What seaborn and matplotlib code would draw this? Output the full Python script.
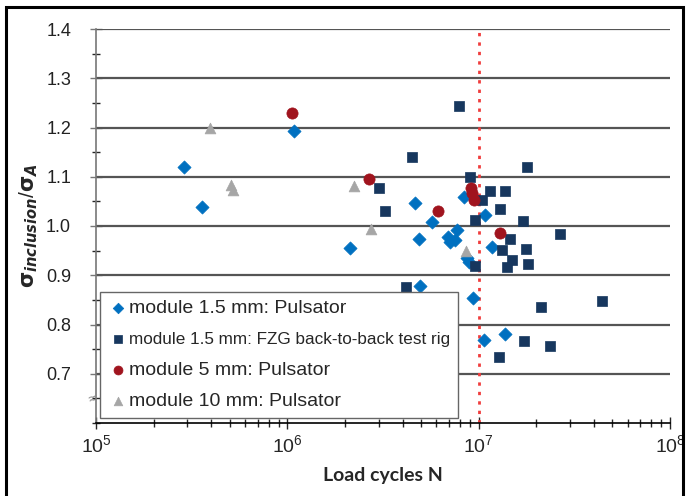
import numpy as np
import pandas as pd
import matplotlib.pyplot as plt
import seaborn as sns
from matplotlib.ticker import MultipleLocator, LogLocator, NullFormatter
from matplotlib.patches import Rectangle

# module 1.5 mm: Pulsator (blue diamonds)
puls15_n = [2.88e5, 3.6e5, 1.09e6, 2.13e6, 4.65e6, 4.9e6, 4.94e6, 5.68e6, 6.89e6, 7.08e6,
            7.53e6, 7.67e6, 8.4e6, 8.7e6, 8.9e6, 9.3e6, 1.08e7, 1.18e7, 1.07e7, 1.37e7]
puls15_s = [1.119, 1.038, 1.193, 0.955, 1.047, 0.974, 0.879, 1.009, 0.977, 0.967,
            0.972, 0.991, 1.059, 0.936, 0.926, 0.854, 1.023, 0.958, 0.769, 0.781]

# module 1.5 mm: FZG back-to-back test rig (navy squares)
fzg_n = [4.17e6, 3.03e6, 3.25e6, 4.47e6, 7.9e6, 9.0e6, 9.57e6, 1.04e7, 1.15e7, 1.37e7,
         1.29e7, 1.78e7, 1.70e7, 2.66e7, 1.45e7, 1.33e7, 1.77e7, 1.49e7, 1.82e7, 1.40e7,
         9.6e6, 2.13e7, 4.40e7, 1.73e7, 2.36e7, 1.27e7]
fzg_s = [0.876, 1.078, 1.030, 1.140, 1.244, 1.100, 1.013, 1.052, 1.072, 1.071,
         1.035, 1.120, 1.010, 0.983, 0.974, 0.952, 0.954, 0.930, 0.923, 0.916,
         0.918, 0.836, 0.847, 0.766, 0.757, 0.735]

# module 5 mm: Pulsator (red circles)
puls5_n = [1.06e6, 2.68e6, 6.1e6, 9.1e6, 9.2e6, 9.45e6, 1.30e7]
puls5_s = [1.230, 1.096, 1.030, 1.077, 1.066, 1.052, 0.986]

# module 10 mm: Pulsator (grey triangles)
puls10_n = [3.95e5, 5.1e5, 5.2e5, 2.23e6, 2.73e6, 8.6e6]
puls10_s = [1.198, 1.083, 1.074, 1.081, 0.993, 0.950]

labels = ["module 1.5 mm: Pulsator",
          "module 1.5 mm: FZG back-to-back test rig",
          "module 5 mm: Pulsator",
          "module 10 mm: Pulsator"]
ytick_vals = [0.7, 0.8, 0.9, 1.0, 1.1, 1.2, 1.3, 1.4]
ytick_labels = ["0.7", "0.8", "0.9", "1.0", "1.1", "1.2", "1.3", "1.4"]

colors = ["#0070C0", "#17375E", "#A0141E", "#A6A6A6"]
markers = ["D", "s", "o", "^"]
sizes = [45, 60, 65, 60]

sns.set_style("ticks")
plt.rcParams['font.family'] = ['Liberation Sans', 'DejaVu Sans']
plt.rcParams['mathtext.default'] = 'regular'

fig = plt.figure(figsize=(6.87, 4.96), dpi=100)
ax = fig.add_axes([96 / 687, 1 - 423 / 496, 574 / 687, 394 / 496])

series = [(puls15_n, puls15_s), (fzg_n, fzg_s), (puls5_n, puls5_s), (puls10_n, puls10_s)]
for (n, s), lab, c, m, sz in zip(series, labels, colors, markers, sizes):
    df = pd.DataFrame({"N": n, "ratio": s})
    sns.scatterplot(data=df, x="N", y="ratio", ax=ax, color=c, marker=m, s=sz,
                    edgecolor=c, linewidth=0.5, label=lab, zorder=3)

ax.set_xscale("log")
ax.set_xlim(1e5, 1e8)
ax.set_ylim(0.6, 1.4)
ax.set_yticks(ytick_vals)
ax.set_yticklabels(ytick_labels)
ax.yaxis.set_minor_locator(MultipleLocator(0.05))
ax.xaxis.set_minor_locator(LogLocator(base=10, subs=np.arange(2, 10)))
ax.xaxis.set_minor_formatter(NullFormatter())

for v in ytick_vals:
    ax.axhline(v, color="#555555", lw=1.6, zorder=1)
ax.axvline(1e7, color="#F03C3C", ls=(0, (1.2, 2.2)), lw=2, zorder=2)

for sp in ["top", "right"]:
    ax.spines[sp].set_visible(False)
ax.spines["left"].set_color("#777777")
ax.spines["left"].set_linewidth(1.2)
ax.spines["bottom"].set_color("black")
ax.spines["bottom"].set_linewidth(1.2)
ax.tick_params(axis="both", which="major", direction="inout", length=8, width=1)
ax.tick_params(axis="both", which="minor", direction="inout", length=6, width=1)
ax.tick_params(axis="y", colors="#777777", labelcolor="#222222", labelsize=13, pad=14)
ax.tick_params(axis="x", labelsize=14, pad=4)

ax.set_xlabel("Load cycles N", fontsize=14, fontweight="bold", family="Lato", labelpad=8)
ax.set_ylabel(r"$\mathbf{\sigma}_{\mathbfit{inclusion}}/\mathbf{\sigma}_{\mathbfit{A}}$",
              fontsize=15, labelpad=4)

leg = ax.legend(loc="upper left", bbox_to_anchor=(0.007, 0.333), borderaxespad=0,
                fontsize=14, frameon=True, fancybox=False, edgecolor="#666666",
                framealpha=1, labelspacing=0.7, handletextpad=0.0, borderpad=0.4,
                handlelength=1.1, markerscale=0.8)
leg.get_frame().set_linewidth(1.0)
leg.set_zorder(5)
# the test-rig entry is set narrower in the original
leg.get_texts()[1].set_fontsize(12.3)

ax.text(-0.006, 0.06, "≈", transform=ax.transAxes, fontsize=10, color="#777777",
        ha="center", va="center", rotation=20)

fig.patches.append(Rectangle((6 / 687, -0.02), 677 / 687, 1 - 7 / 496 + 0.02,
                             transform=fig.transFigure, fill=False, edgecolor="black",
                             lw=2.2))

fig.savefig("out.png", dpi=100)
